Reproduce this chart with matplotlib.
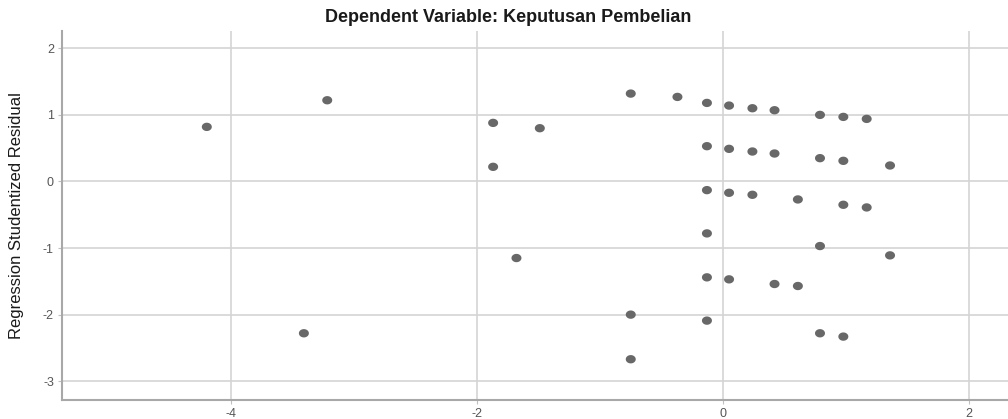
import numpy as np
import matplotlib.pyplot as plt
from matplotlib.path import Path

plt.rcParams["font.family"] = ["Liberation Sans", "DejaVu Sans"]
plt.rcParams["axes.unicode_minus"] = False

# regression standardized predicted value vs studentized residual
pred = [
    -4.20, -3.22, -3.41,
    -1.87, -1.49, -1.87, -1.68,
    -0.75, -0.75, -0.75,
    -0.37, -0.13, 0.05, 0.24, 0.42, 0.79, 0.98, 1.17,
    -0.13, 0.05, 0.24, 0.42, 0.79, 0.98, 1.36,
    -0.13, 0.05, 0.24, 0.61, 0.98, 1.17,
    -0.13, 0.79, 1.36,
    -0.13, 0.05, 0.42, 0.61,
    -0.13, 0.79, 0.98,
]
resid = [
    0.82, 1.22, -2.28,
    0.88, 0.80, 0.22, -1.15,
    1.32, -2.00, -2.67,
    1.27, 1.18, 1.14, 1.10, 1.07, 1.00, 0.97, 0.94,
    0.53, 0.49, 0.45, 0.42, 0.35, 0.31, 0.24,
    -0.13, -0.17, -0.20, -0.27, -0.35, -0.39,
    -0.78, -0.97, -1.11,
    -1.44, -1.47, -1.54, -1.57,
    -2.09, -2.28, -2.33,
]
xticks = [-4, -2, 0, 2]
yticks = [-3, -2, -1, 0, 1, 2]

# slightly wide oval marker
t = np.linspace(0, 2 * np.pi, 40)
oval = Path(np.column_stack([1.2 * np.cos(t), np.sin(t)]), closed=True)

fig = plt.figure(figsize=(10.08, 4.19), dpi=100)
ax = fig.add_axes([0.0618, 0.0465, 0.9382, 0.8795])

ax.scatter(pred, resid, s=52, marker=oval, color="#686868", edgecolors="none", zorder=3)

ax.set_xlim(-5.376, 2.32)
ax.set_ylim(-3.275, 2.26)
ax.set_xticks(xticks)
ax.set_yticks(yticks)
ax.grid(True, color="#d4d4d4", lw=1.2)
ax.set_axisbelow(True)

for side in ["top", "right"]:
    ax.spines[side].set_visible(False)
for side in ["left", "bottom"]:
    ax.spines[side].set_color("#a8a8a8")
    ax.spines[side].set_linewidth(1.5)
ax.tick_params(length=3, color="#c0c0c0", labelsize=9, labelcolor="#555555", pad=3)

ax.set_ylabel("Regression Studentized Residual", fontsize=12, color="#1a1a1a", labelpad=14)
fig.text(0.504, 0.958, "Dependent Variable: Keputusan Pembelian", fontsize=13,
         fontweight="bold", color="#1a1a1a", ha="center", va="center")

plt.savefig("out.png", dpi=100)
